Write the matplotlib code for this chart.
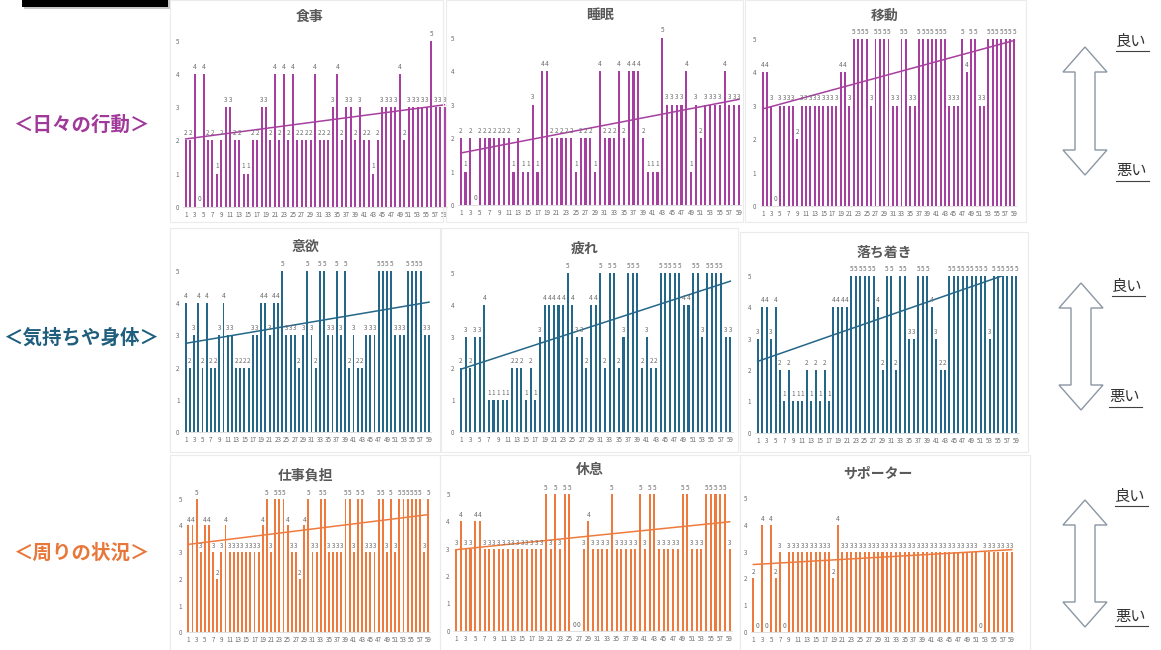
import numpy as np
import matplotlib
matplotlib.use("Agg")
import matplotlib.pyplot as plt
from matplotlib.patches import Polygon, Rectangle
from matplotlib.lines import Line2D

plt.rcParams['font.family'] = ['Noto Sans CJK JP', 'DejaVu Sans']

days = np.arange(1, 60)

# daily scores (0-5)
shokuji = [2, 2, 4, 0, 4, 2, 2, 1, 2, 3, 3, 2, 2, 1, 1, 2, 2, 3, 3, 2,
           4, 2, 4, 2, 4, 2, 2, 2, 2, 4, 2, 2, 2, 3, 4, 2, 3, 3, 2, 3,
           2, 2, 1, 2, 3, 3, 3, 3, 4, 2, 3, 3, 3, 3, 3, 5, 3, 3, 3]
suimin = [2, 1, 2, 0, 2, 2, 2, 2, 2, 2, 2, 1, 2, 1, 1, 3, 1, 4, 4, 2,
          2, 2, 2, 2, 1, 2, 2, 2, 1, 4, 2, 2, 2, 4, 2, 4, 4, 4, 2, 1,
          1, 1, 5, 3, 3, 3, 3, 4, 1, 3, 2, 3, 3, 3, 3, 4, 3, 3, 3]
idou = [4, 4, 3, 0, 3, 3, 3, 3, 2, 3, 3, 3, 3, 3, 3, 3, 3, 3, 4, 4,
        3, 5, 5, 5, 5, 3, 5, 5, 5, 5, 3, 3, 5, 5, 3, 3, 5, 5, 5, 5,
        5, 5, 5, 3, 3, 3, 5, 4, 5, 5, 3, 3, 5, 5, 5, 5, 5, 5, 5]
iyoku = [4, 2, 3, 4, 2, 4, 2, 2, 3, 4, 3, 3, 2, 2, 2, 2, 3, 3, 4, 4,
         3, 4, 4, 5, 3, 3, 3, 2, 3, 5, 3, 2, 5, 5, 3, 3, 5, 3, 5, 2,
         3, 2, 2, 3, 3, 3, 5, 5, 5, 5, 3, 3, 3, 5, 5, 5, 5, 3, 3]
tsukare = [2, 3, 2, 3, 3, 4, 1, 1, 1, 1, 1, 2, 2, 2, 1, 2, 1, 3, 4, 4,
           4, 4, 4, 5, 4, 3, 3, 2, 4, 4, 5, 2, 5, 5, 2, 3, 5, 5, 5, 2,
           3, 2, 2, 5, 5, 5, 5, 5, 4, 4, 5, 5, 3, 5, 5, 5, 5, 3, 3]
ochitsuki = [3, 4, 4, 3, 4, 2, 1, 2, 1, 1, 1, 2, 1, 2, 1, 2, 1, 4, 4, 4,
             4, 5, 5, 5, 5, 5, 5, 4, 2, 5, 5, 2, 5, 5, 3, 3, 5, 5, 5, 4,
             3, 2, 2, 5, 5, 5, 5, 5, 5, 5, 5, 5, 3, 5, 5, 5, 5, 5, 5]
shigoto = [4, 4, 5, 3, 4, 4, 3, 2, 3, 4, 3, 3, 3, 3, 3, 3, 3, 3, 4, 5,
           3, 5, 5, 5, 4, 3, 3, 2, 4, 5, 3, 3, 5, 5, 3, 3, 3, 3, 5, 5,
           3, 5, 5, 3, 3, 3, 5, 5, 3, 5, 3, 5, 5, 5, 5, 5, 5, 3, 5]
kyusoku = [3, 4, 3, 3, 4, 4, 3, 3, 3, 3, 3, 3, 3, 3, 3, 3, 3, 3, 3, 5,
           3, 5, 3, 5, 5, 0, 0, 3, 4, 3, 3, 3, 3, 5, 3, 3, 3, 3, 3, 5,
           3, 5, 5, 3, 3, 3, 3, 3, 5, 5, 3, 3, 3, 5, 5, 5, 5, 5, 3]
supporter = [2, 0, 4, 0, 4, 2, 3, 0, 3, 3, 3, 3, 3, 3, 3, 3, 3, 3, 2, 4,
             3, 3, 3, 3, 3, 3, 3, 3, 3, 3, 3, 3, 3, 3, 3, 3, 3, 3, 3, 3,
             3, 3, 3, 3, 3, 3, 3, 3, 3, 3, 3, 0, 3, 3, 3, 3, 3, 3, 3]

titles = ['食事', '睡眠', '移動', '意欲', '疲れ', '落ち着き', '仕事負担', '休息', 'サポーター']
series = [shokuji, suimin, idou, iyoku, tsukare, ochitsuki, shigoto, kyusoku, supporter]
groups = ['＜日々の行動＞', '＜気持ちや身体＞', '＜周りの状況＞']

purple = '#A73FA0'
teal = '#246789'
orange = '#EE7B3D'
bar_colors = [purple] * 3 + [teal] * 3 + [orange] * 3
group_colors = ['#A0399A', '#1F5E7D', '#E8773A']

W, H = 1161, 650
fig = plt.figure(figsize=(W / 100, H / 100), dpi=100)


def fx(x):
    return x / W


def fy(y):
    return 1 - y / H


# pixel layout: first bar x, last bar x, y of 0, y of 5, title x, title y
layout = [
    (185.7, 444.5, 206.7, 41.0, 310, 17),
    (460.7, 739.0, 205.0, 37.7, 600, 15),
    (762.7, 1014.3, 206.0, 39.0, 885, 16),
    (185.7, 429.0, 432.3, 270.7, 305, 247),
    (461.0, 730.3, 432.3, 272.7, 585, 249),
    (757.7, 1016.3, 432.7, 275.7, 884, 253),
    (188.3, 428.3, 632.3, 498.7, 305, 475),
    (456.3, 729.7, 630.7, 494.0, 590, 470),
    (753.3, 1011.7, 631.7, 498.3, 878, 474),
]

# chart-area frames
frames = [
    (170, 0, 443, 222), (446, 0, 743, 222), (745, 0, 1026, 222),
    (170, 228, 440, 452), (441, 228, 738, 452), (740, 232, 1028, 452),
    (170, 455, 440, 650), (440, 455, 740, 650), (740, 455, 1030, 650),
]
for x0, y0, x1, y1 in frames:
    fig.patches.append(Rectangle((fx(x0), fy(y1)), (x1 - x0) / W, (y1 - y0) / H,
                                 transform=fig.transFigure, fill=False,
                                 edgecolor='#ebebeb', linewidth=0.8))

for vals, title, color, (b1, b59, y0, y5, tx, ty) in zip(series, titles, bar_colors, layout):
    sp = (b59 - b1) / 58
    left = b1 - 0.5 * sp
    right = b59 + 0.5 * sp
    ax = fig.add_axes([fx(left), fy(y0), (right - left) / W, (y0 - y5) / H])
    ax.bar(days, vals, width=0.45, color=color, linewidth=0)
    for d, v in zip(days, vals):
        ax.text(d, v + 0.22, str(v), ha='center', va='center',
                fontsize=4.6, color='#6b6b6b')
    # linear trend
    k, b = np.polyfit(days, vals, 1)
    ax.plot([1, 59], [k * 1 + b, k * 59 + b], color=color, linewidth=1.1)
    ax.set_xlim(0.5, 59.5)
    ax.set_ylim(0, 5)
    ax.set_xticks(days[::2])
    ax.set_xticklabels([str(d) for d in days[::2]])
    ax.set_yticks(range(6))
    ax.tick_params(length=0, labelsize=4.5, labelcolor='#6b6b6b', pad=3)
    for s in ['top', 'right', 'left']:
        ax.spines[s].set_visible(False)
    ax.spines['bottom'].set_color('#d9d9d9')
    ax.spines['bottom'].set_linewidth(0.6)
    ax.patch.set_alpha(0)
    fig.text(fx(tx), fy(ty), title, ha='center', va='center',
             fontsize=10, fontweight='bold', color='#595959')

# group labels on the left
for label, color, ly in zip(groups, group_colors, [125, 338, 553]):
    fig.text(fx(81), fy(ly), label, ha='center', va='center',
             fontsize=14, fontweight='bold', color=color)


# double-headed arrows on the right
def double_arrow(cx, top, bottom, hw=22, sw=10, hl=25):
    pts = [(cx, top), (cx + hw, top + hl), (cx + sw, top + hl),
           (cx + sw, bottom - hl), (cx + hw, bottom - hl), (cx, bottom),
           (cx - hw, bottom - hl), (cx - sw, bottom - hl),
           (cx - sw, top + hl), (cx - hw, top + hl)]
    fig.patches.append(Polygon([(fx(x), fy(y)) for x, y in pts], closed=True,
                               transform=fig.transFigure, facecolor='white',
                               edgecolor='#8a96a3', linewidth=1.0))


for cx, top, bottom in [(1085, 47, 175), (1081, 283, 410), (1085, 500, 627)]:
    double_arrow(cx, top, bottom)

# good / bad labels with underline
marks = [('良い', 1116, 41), ('悪い', 1116, 171),
         ('良い', 1112, 286), ('悪い', 1109, 397),
         ('良い', 1115, 496), ('悪い', 1115, 616)]
for txt, x, y in marks:
    fig.text(fx(x), fy(y), txt, ha='left', va='center', fontsize=11, color='#333333')
    fig.lines.append(Line2D([fx(x), fx(x + 33)], [fy(y + 10), fy(y + 10)],
                            transform=fig.transFigure, color='#404040', linewidth=0.8))

# dark header bar in the top-left corner
fig.patches.append(Rectangle((fx(24), fy(9)), 146 / W, 9 / H, transform=fig.transFigure,
                             facecolor='#c8c8c8', edgecolor='none'))
fig.patches.append(Rectangle((fx(22), fy(7)), 146 / W, 7 / H, transform=fig.transFigure,
                             facecolor='black', edgecolor='none'))

fig.savefig('out.png', dpi=100)
